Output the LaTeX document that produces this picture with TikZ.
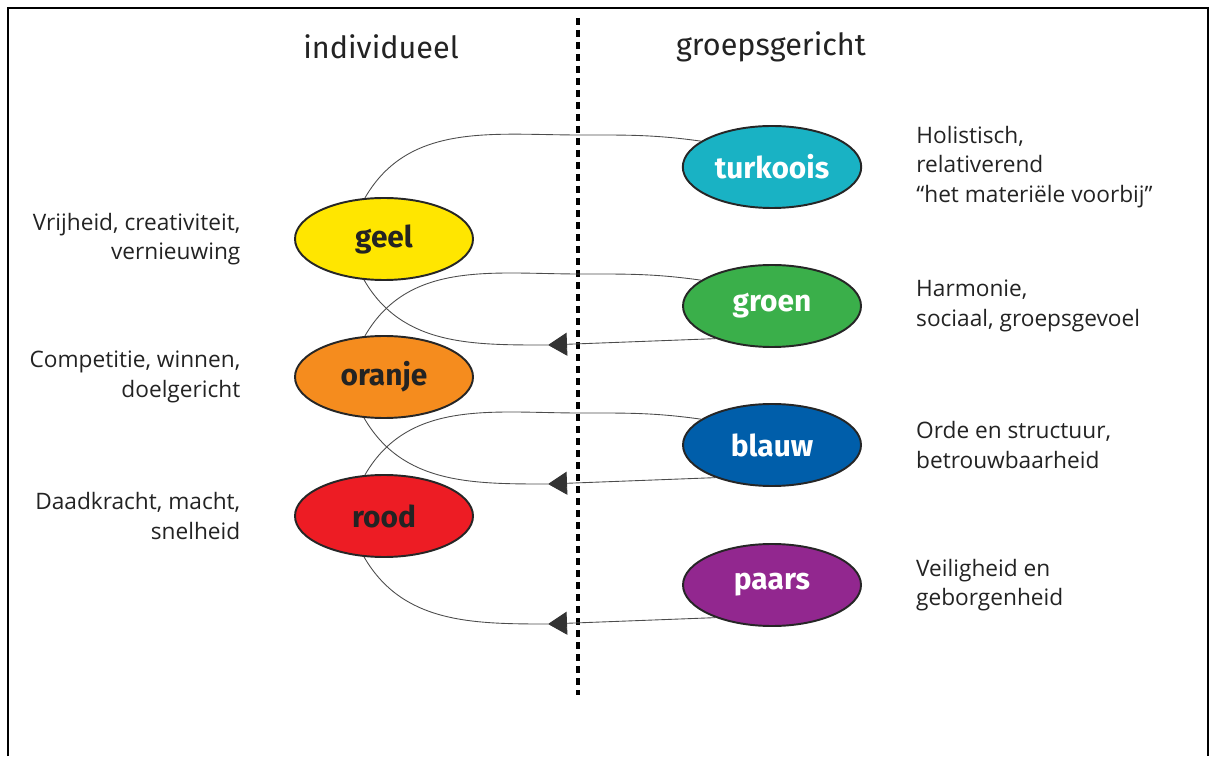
\documentclass[tikz,border=0pt]{standalone}
\usepackage{fontspec}
\setmainfont{Open Sans}
\newfontfamily\ellipsfont{Fira Sans}
\newfontfamily\kopfont{Fira Sans}
\usetikzlibrary{shapes.geometric, arrows.meta, positioning}
\definecolor{geelkleur}{RGB}{255, 230, 0}
\definecolor{oranjekleur}{RGB}{245, 140, 30}
\definecolor{roodkleur}{RGB}{237, 28, 36}
\definecolor{turkooiskleur}{RGB}{25, 178, 196}
\definecolor{groenkleur}{RGB}{58, 175, 74}
\definecolor{blauwkleur}{RGB}{0, 94, 170}
\definecolor{paarskleur}{RGB}{146, 39, 143}
\definecolor{tekstgrijs}{RGB}{35, 35, 35}

\begin{document}
\begin{tikzpicture}[
    niveau/.style={draw=black!85, line width=1.1pt, ellipse, minimum width=3.56cm, minimum height=1.64cm, font=\ellipsfont\bfseries\fontsize{17}{17}\selectfont},
    uitleg/.style={text=tekstgrijs, font=\fontsize{12.9}{16.8}\selectfont},
    kop/.style={text=tekstgrijs, font=\kopfont\fontsize{17.4}{17.4}\selectfont},
    spiraal/.style={draw=black!70, line width=0.5pt},
    pijl/.style={spiraal, -{Triangle[length=0.38cm, width=0.46cm, color=black!80]}}
]
    \useasboundingbox (0,0) rectangle (24.22,15.12);

    % Frame
    \draw[line width=0.04cm] (0.16,0) -- (0.16,14.96) -- (24.16,14.96) -- (24.16,0);

    % Divider
    \coordinate (scheidingboven) at (11.56,14.76);
    \coordinate (scheidingonder) at (11.56,1.22);
    \draw[line width=0.07cm, dash pattern=on 0.14cm off 0.1cm] (scheidingboven) -- (scheidingonder);

    % Headings
    \node[kop] (individueel) at (7.62,14.18) {individueel};
    \node[kop] (groepsgericht) at (15.42,14.18) {groepsgericht};

    % Individual levels
    \node[niveau, fill=geelkleur, text=tekstgrijs] (geel) at (7.68,10.34) {geel};
    \node[niveau, fill=oranjekleur, text=tekstgrijs] (oranje) at (7.68,7.58) {oranje};
    \node[niveau, fill=roodkleur, text=tekstgrijs] (rood) at (7.68,4.80) {rood};

    % Group levels
    \node[niveau, fill=turkooiskleur, text=white] (turkoois) at (15.44,11.78) {turkoois};
    \node[niveau, fill=groenkleur, text=white] (groen) at (15.44,9.00) {groen};
    \node[niveau, fill=blauwkleur, text=white] (blauw) at (15.44,6.22) {blauw};
    \node[niveau, fill=paarskleur, text=white] (paars) at (15.44,3.42) {paars};

    % Descriptions
    \node[uitleg, align=right, left=0.95cm of geel] (geeltekst) {Vrijheid, creativiteit,\\vernieuwing};
    \node[uitleg, align=right, left=0.95cm of oranje] (oranjetekst) {Competitie, winnen,\\doelgericht};
    \node[uitleg, align=right, left=0.95cm of rood] (roodtekst) {Daadkracht, macht,\\snelheid};
    \node[uitleg, align=left, right=0.96cm of turkoois] (turkoistekst) {Holistisch,\\relativerend\\``het materiële voorbij''};
    \node[uitleg, align=left, right=0.96cm of groen] (groentekst) {Harmonie,\\sociaal, groepsgevoel};
    \node[uitleg, align=left, right=0.96cm of blauw] (blauwtekst) {Orde en structuur,\\betrouwbaarheid};
    \node[uitleg, align=left, right=0.96cm of paars] (paarstekst) {Veiligheid en\\geborgenheid};

    % Spiral
    \coordinate (boog1) at (11.6,12.42);
    \coordinate (boog2) at (11.6,9.64);
    \coordinate (boog3) at (11.6,6.86);
    \coordinate (punt1) at (10.96,8.22);
    \coordinate (punt2) at (10.96,5.44);
    \coordinate (punt3) at (10.96,2.64);

    \draw[pijl] (paars.210) -- (punt3);
    \draw[spiraal] (punt3) to[out=180, in=-60] (rood.244);
    \draw[spiraal] (rood.115) to[out=60, in=180] (boog3) to[out=0, in=172] (blauw.160);
    \draw[pijl] (blauw.210) -- (punt2);
    \draw[spiraal] (punt2) to[out=180, in=-60] (oranje.244);
    \draw[spiraal] (oranje.115) to[out=60, in=180] (boog2) to[out=0, in=172] (groen.160);
    \draw[pijl] (groen.210) -- (punt1);
    \draw[spiraal] (punt1) to[out=180, in=-60] (geel.244);
    \draw[spiraal] (geel.115) to[out=60, in=180] (boog1) to[out=0, in=172] (turkoois.160);
\end{tikzpicture}
\end{document}
